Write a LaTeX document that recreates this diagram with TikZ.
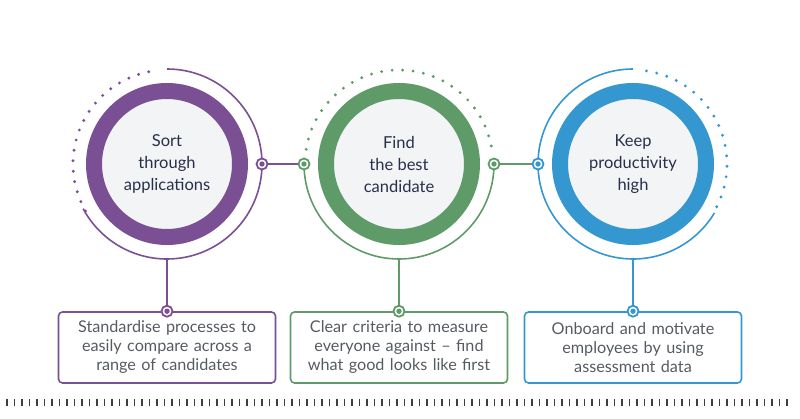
\documentclass[tikz,border=0pt]{standalone}
\usepackage{fontspec}
\setmainfont{Lato}
\usetikzlibrary{calc}
\definecolor{sortcol}{HTML}{7A4F93}
\definecolor{findcol}{HTML}{5E9B68}
\definecolor{keepcol}{HTML}{3497D0}
\definecolor{title}{HTML}{27304A}
\definecolor{body}{HTML}{565B62}
\definecolor{inner}{HTML}{F3F4F6}
\definecolor{tickcol}{HTML}{3A3F45}

\begin{document}
\begin{tikzpicture}[x=1pt,y=1pt,
	ring/.style={circle,draw=#1,line width=16pt,fill=inner,minimum size=146pt,inner sep=0pt,align=center,text=title,font=\fontsize{16.5}{22}\selectfont},
	port/.style={circle,draw=#1,line width=1.8pt,fill=white,minimum size=11pt,inner sep=0pt,path picture={\fill[#1] (path picture bounding box.center) circle (2.7pt);}},
	info/.style={draw=#1,line width=1.6pt,rounded corners=4pt,inner sep=0pt,minimum width=217pt,minimum height=71pt,text width=217pt,align=center,text=body,font=\fontsize{16.2}{19}\selectfont},
	orbit/.style={draw=#1,line width=1.6pt},
	dots/.style={draw=#1,line width=3.2pt,line cap=round,dash pattern=on 0pt off 10.5pt},
	tick/.style={draw=tickcol,line width=1.2pt}]
	\useasboundingbox (0,0) rectangle (800,418);
	% circles
	\node[ring=sortcol] (c1) at (167,254) {Sort\\through\\applications};
	\node[ring=findcol] (c2) at (399,254) {Find\\the best\\candidate};
	\node[ring=keepcol] (c3) at (633,254) {Keep\\productivity\\high};
	% orbits
	\draw[orbit=sortcol] (c1.center) ++(90:95) arc[start angle=90,end angle=-152,radius=95];
	\draw[dots=sortcol] (c1.center) ++(210:94) arc[start angle=210,end angle=97,radius=94];
	\draw[orbit=findcol] (c2.center) ++(180:95) arc[start angle=180,end angle=360,radius=95];
	\draw[dots=findcol] (c2.center) ++(171:94) arc[start angle=171,end angle=9,radius=94];
	\draw[orbit=keepcol] (c3.center) ++(90:95) arc[start angle=90,end angle=329,radius=95];
	\draw[dots=keepcol] (c3.center) ++(-27:94) arc[start angle=-27,end angle=85,radius=94];
	% boxes
	\node[info=sortcol] (b1) at (167,70.5) {Standardise processes to\\easily compare across a\\range of candidates};
	\node[info=findcol] (b2) at (399,70.5) {Clear criteria to measure\\everyone against -- find\\what good looks like first};
	\node[info=keepcol] (b3) at (633,70.5) {Onboard and motivate\\employees by using\\assessment data};
	% ports
	\node[port=sortcol] (p1) at (262,254) {};
	\node[port=findcol] (p2l) at (304,254) {};
	\node[port=findcol] (p2r) at (494,254) {};
	\node[port=keepcol] (p3) at (538,254) {};
	\node[port=sortcol] (q1) at (b1.north) {};
	\node[port=findcol] (q2) at (b2.north) {};
	\node[port=keepcol] (q3) at (b3.north) {};
	\coordinate (s1) at ($(c1.center)+(0,-95)$);
	\coordinate (s2) at ($(c2.center)+(0,-95)$);
	\coordinate (s3) at ($(c3.center)+(0,-95)$);
	% connectors
	\draw[orbit=sortcol] (p1) -- (p2l);
	\draw[orbit=findcol] (p2r) -- (p3);
	\draw[orbit=sortcol,line width=2.2pt] (s1) -- (q1);
	\draw[orbit=findcol,line width=2.2pt] (s2) -- (q2);
	\draw[orbit=keepcol,line width=2.2pt] (s3) -- (q3);
	% ruler
	\foreach \i in {0,...,104}
		\draw[tick] (7+7.5*\i,12) -- ++(0,7);
\end{tikzpicture}
\end{document}
